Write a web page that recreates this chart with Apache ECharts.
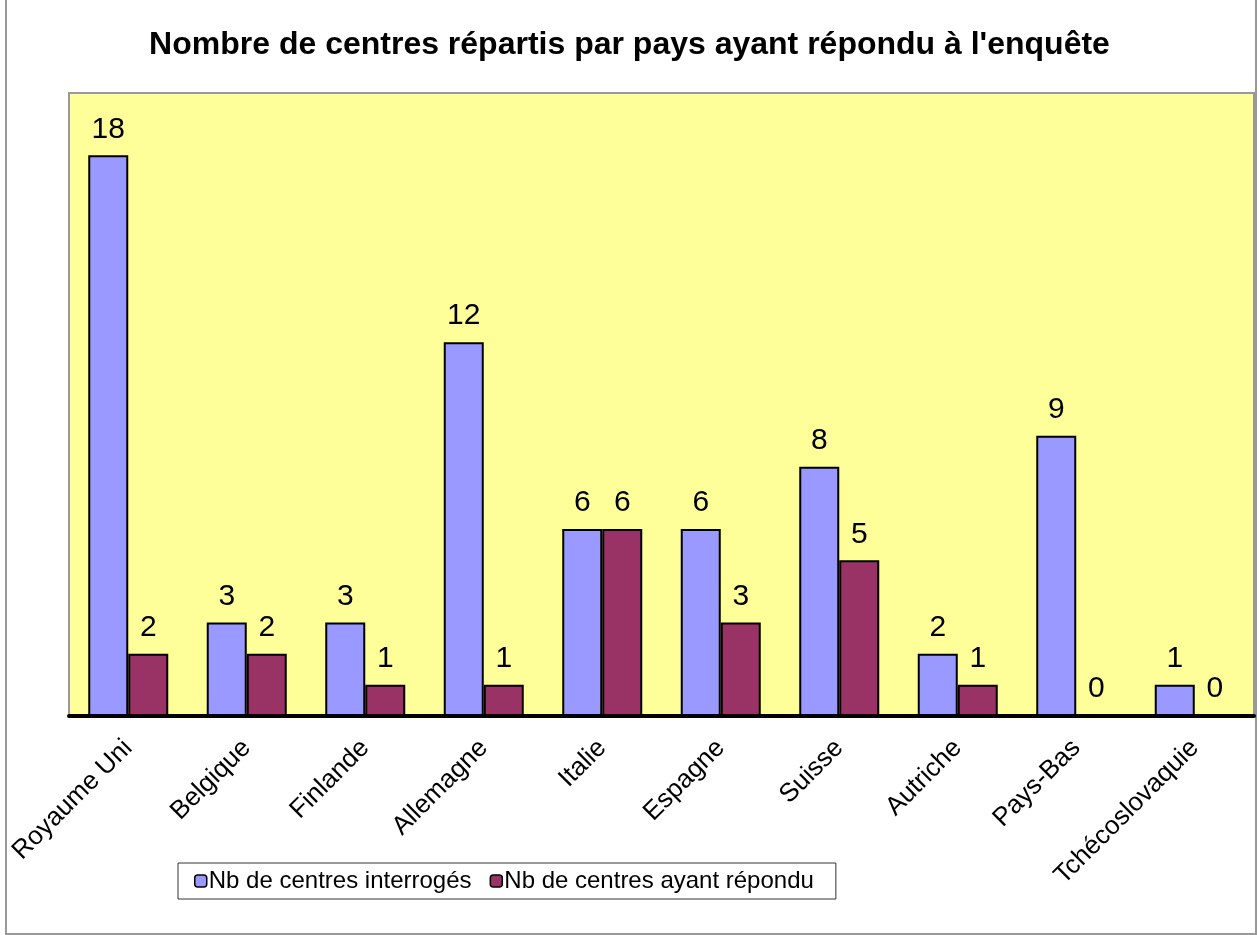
<!DOCTYPE html>
<html>
<head>
<meta charset="utf-8">
<script src="https://cdn.jsdelivr.net/npm/echarts@6/dist/echarts.min.js"></script>
<style>
  html, body { margin: 0; padding: 0; background: #fff; }
  #chart_wrap { width: 1259px; height: 935px; }
</style>
</head>
<body>
<div id="chart_wrap"></div>
<script>
var pays = ['Royaume Uni', 'Belgique', 'Finlande', 'Allemagne', 'Italie',
            'Espagne', 'Suisse', 'Autriche', 'Pays-Bas', 'Tchécoslovaquie'];
var interroges = [18, 3, 3, 12, 6, 6, 8, 2, 9, 1];
var repondu = [2, 2, 1, 1, 6, 3, 5, 1, 0, 0];

var chart = echarts.init(document.getElementById('chart_wrap'));

var labelStyle = {
    show: true,
    position: 'top',
    distance: 11,
    color: '#000',
    fontSize: 30,
    fontFamily: 'Liberation Sans, Arial'
};

var option = {
    backgroundColor: '#fff',
    animation: false,
    title: {
        text: "Nombre de centres répartis par pays ayant répondu à l'enquête",
        left: 'center',
        top: 24,
        textStyle: {
            color: '#000',
            fontSize: 32,
            fontWeight: 'bold',
            fontFamily: 'Liberation Sans, Arial'
        }
    },
    graphic: [
        {
            type: 'rect',
            shape: { x: 6, y: -2, width: 1250, height: 936 },
            style: { fill: 'none', stroke: '#999', lineWidth: 2 },
            z: -1
        }
    ],
    legend: {
        left: 178,
        top: 863,
        itemWidth: 12,
        itemHeight: 12,
        itemGap: 18,
        padding: [6, 22, 6, 16],
        borderColor: '#333',
        borderWidth: 1,
        backgroundColor: '#fff',
        itemStyle: { borderColor: '#000', borderWidth: 1.5 },
        textStyle: {
            color: '#000',
            fontSize: 24,
            fontFamily: 'Liberation Sans, Arial',
            padding: [0, 0, 0, -3]
        },
        data: ['Nb de centres interrogés', 'Nb de centres ayant répondu']
    },
    grid: {
        left: 69,
        right: 5,
        top: 93,
        bottom: 219,
        show: true,
        backgroundColor: '#ffff99',
        borderColor: '#999',
        borderWidth: 2
    },
    xAxis: {
        type: 'category',
        data: pays,
        axisLine: { show: true, lineStyle: { color: '#000', width: 4 } },
        axisTick: { show: false },
        axisLabel: {
            rotate: 45,
            margin: 28,
            color: '#000',
            fontSize: 26,
            fontFamily: 'Liberation Sans, Arial'
        }
    },
    yAxis: {
        type: 'value',
        min: 0,
        max: 20,
        interval: 2,
        axisLine: { show: false },
        axisTick: { show: false },
        axisLabel: { show: false },
        splitLine: { show: false }
    },
    series: [
        {
            name: 'Nb de centres interrogés',
            type: 'bar',
            data: interroges,
            barWidth: 40,
            barGap: '0%',
            itemStyle: { color: '#9999ff', borderColor: '#000', borderWidth: 2 },
            label: labelStyle
        },
        {
            name: 'Nb de centres ayant répondu',
            type: 'bar',
            data: repondu,
            barWidth: 40,
            itemStyle: { color: '#993366', borderColor: '#000', borderWidth: 2 },
            label: labelStyle
        }
    ]
};

chart.setOption(option, true);
</script>
</body>
</html>
